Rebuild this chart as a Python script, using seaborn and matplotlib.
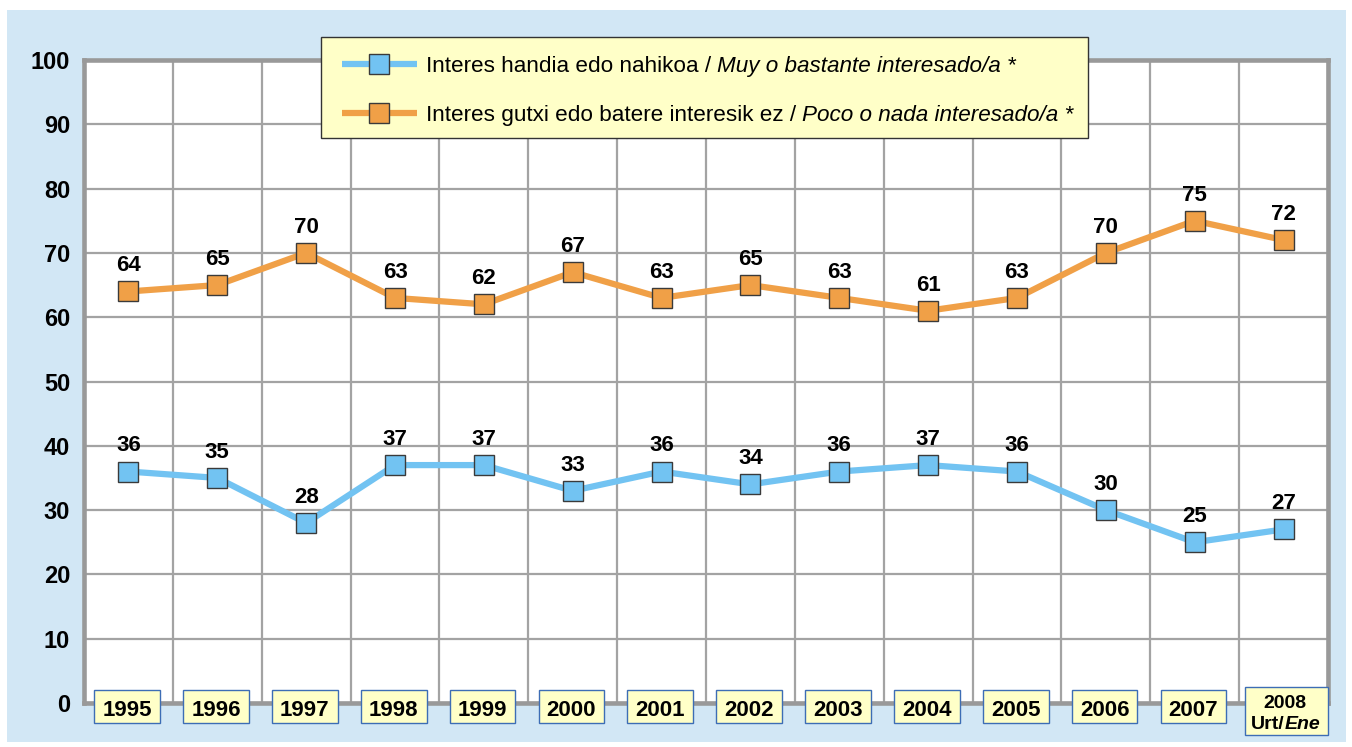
import matplotlib
matplotlib.use("Agg")
import matplotlib.pyplot as plt
import matplotlib.patches as mpatches
from matplotlib.lines import Line2D
import matplotlib.transforms as mtransforms
import seaborn as sns
import pandas as pd

years = ["1995", "1996", "1997", "1998", "1999", "2000", "2001", "2002",
         "2003", "2004", "2005", "2006", "2007", "2008"]
last_sub_a = "Urt/"
last_sub_b = "Ene"
interested = [36, 35, 28, 37, 37, 33, 36, 34, 36, 37, 36, 30, 25, 27]
not_interested = [64, 65, 70, 63, 62, 67, 63, 65, 63, 61, 63, 70, 75, 72]
label_blue = "Interes handia edo nahikoa / "
label_blue_it = "Muy o bastante interesado/a"
label_orange = "Interes gutxi edo batere interesik ez / "
label_orange_it = "Poco o nada interesado/a"
yticks = [0, 10, 20, 30, 40, 50, 60, 70, 80, 90, 100]

BLUE = "#72C3F2"
ORANGE = "#F0A047"
BG = "#D2E7F5"
GRID = "#A3A3A3"

sns.set_theme(style="white")
plt.rcParams["font.family"] = ["Liberation Sans", "DejaVu Sans"]
plt.rcParams["text.color"] = "black"
plt.rcParams["ytick.labelcolor"] = "black"

W, H = 1352, 747
fig = plt.figure(figsize=(W / 100, H / 100), dpi=100, facecolor="white")
fig.patches.append(mpatches.Rectangle((7 / W, 1 - 742 / H), (1346 - 7) / W, (742 - 10) / H,
                                      transform=fig.transFigure, facecolor=BG,
                                      edgecolor="none", zorder=-5))
left, right, top, bottom = 84, 1328, 60, 703
ax = fig.add_axes([left / W, 1 - bottom / H, (right - left) / W, (bottom - top) / H])
ax.set_facecolor("white")


def ay(py):
    return (bottom - py) / (bottom - top)


df = pd.DataFrame({
    "x": list(range(len(years))) * 2,
    "value": interested + not_interested,
    "series": ["blue"] * len(years) + ["orange"] * len(years),
})
sns.lineplot(data=df, x="x", y="value", hue="series",
             palette={"blue": BLUE, "orange": ORANGE}, linewidth=4.5,
             marker="s", markersize=15, markeredgecolor="#3A3A3A",
             markeredgewidth=1.0, legend=False, ax=ax, zorder=5)

for series in (interested, not_interested):
    for i, v in enumerate(series):
        ax.annotate(str(v), (i, v), xytext=(0, 14.5), textcoords="offset points",
                    ha="center", va="baseline", fontsize=16, fontweight="bold",
                    color="black", zorder=6)

ax.set_xlim(-0.5, len(years) - 0.5)
ax.set_ylim(0, 100)
ax.set_yticks(yticks)
ax.set_yticklabels([str(t) for t in yticks], fontsize=17, fontweight="bold")
ax.tick_params(axis="y", length=0, pad=10)
ax.set_xticks([i + 0.5 for i in range(-1, len(years))])
ax.set_xticklabels([])
ax.tick_params(axis="x", length=0)
ax.grid(True, color=GRID, linewidth=1.6)
ax.set_axisbelow(True)
ax.set_xlabel("")
ax.set_ylabel("")
for s in ax.spines.values():
    s.set_color("#999999")
    s.set_linewidth(3.3)

# boxed category labels
trans = mtransforms.blended_transform_factory(ax.transData, ax.transAxes)
for i, y in enumerate(years):
    if i < len(years) - 1:
        w = 0.74
        ax.add_patch(mpatches.Rectangle((i - w / 2 - 0.015, ay(723)), w, ay(690) - ay(723),
                                        transform=trans, facecolor="#FFFFC8",
                                        edgecolor="#3D6DB5", linewidth=1.0,
                                        clip_on=False, zorder=10))
        ax.text(i - 0.015, ay(715.5), y, transform=trans, ha="center", va="baseline",
                fontsize=16, fontweight="bold", zorder=11, clip_on=False)
    else:
        xc = i + 0.03
        w = (1328 - 1245) / ((right - left) / len(years))
        ax.add_patch(mpatches.Rectangle((xc - w / 2, ay(735)), w, ay(687) - ay(735),
                                        transform=trans, facecolor="#FFFFC8",
                                        edgecolor="#3D6DB5", linewidth=1.0,
                                        clip_on=False, zorder=10))
        ax.text(i + 0.016, ay(708), y, transform=trans, ha="center", va="baseline",
                fontsize=14, fontweight="bold", zorder=11, clip_on=False)
        ax.text(i + 0.016, ay(729), last_sub_a, transform=trans, ha="right", va="baseline",
                fontsize=14, fontweight="bold", zorder=11, clip_on=False)
        ax.text(i + 0.016, ay(729), last_sub_b, transform=trans, ha="left", va="baseline",
                fontsize=14, fontweight="bold", fontstyle="italic", zorder=11, clip_on=False)

# legend box
lx0, lx1, ly0, ly1 = 321, 1088, 37, 138
fig.patches.append(mpatches.Rectangle((lx0 / W, 1 - ly1 / H), (lx1 - lx0) / W, (ly1 - ly0) / H,
                                      transform=fig.transFigure, facecolor="#FFFFC8",
                                      edgecolor="#333333", linewidth=1.0, zorder=20))
rows = [(64, BLUE, label_blue, label_blue_it), (113, ORANGE, label_orange, label_orange_it)]
for yp, col, txt, it in rows:
    yf = 1 - yp / H
    fig.lines.append(Line2D([342 / W, 417 / W], [yf, yf], transform=fig.transFigure,
                            color=col, linewidth=4.5, solid_capstyle="butt", zorder=21))
    fig.lines.append(Line2D([379 / W], [yf], transform=fig.transFigure, marker="s",
                            markersize=15, markerfacecolor=col, markeredgecolor="#3A3A3A",
                            markeredgewidth=1.0, linestyle="none", zorder=22))
    ybase = 1 - (yp + 8) / H
    t1 = fig.text(426 / W, ybase, txt, fontsize=16.2, va="baseline", ha="left", zorder=23)
    fig.canvas.draw()
    bb = t1.get_window_extent()
    fig.text(bb.x1 / W, ybase, it + " *", fontsize=16.2, fontstyle="italic",
             va="baseline", ha="left", zorder=23)

fig.savefig("out.png", dpi=100, facecolor="white")
